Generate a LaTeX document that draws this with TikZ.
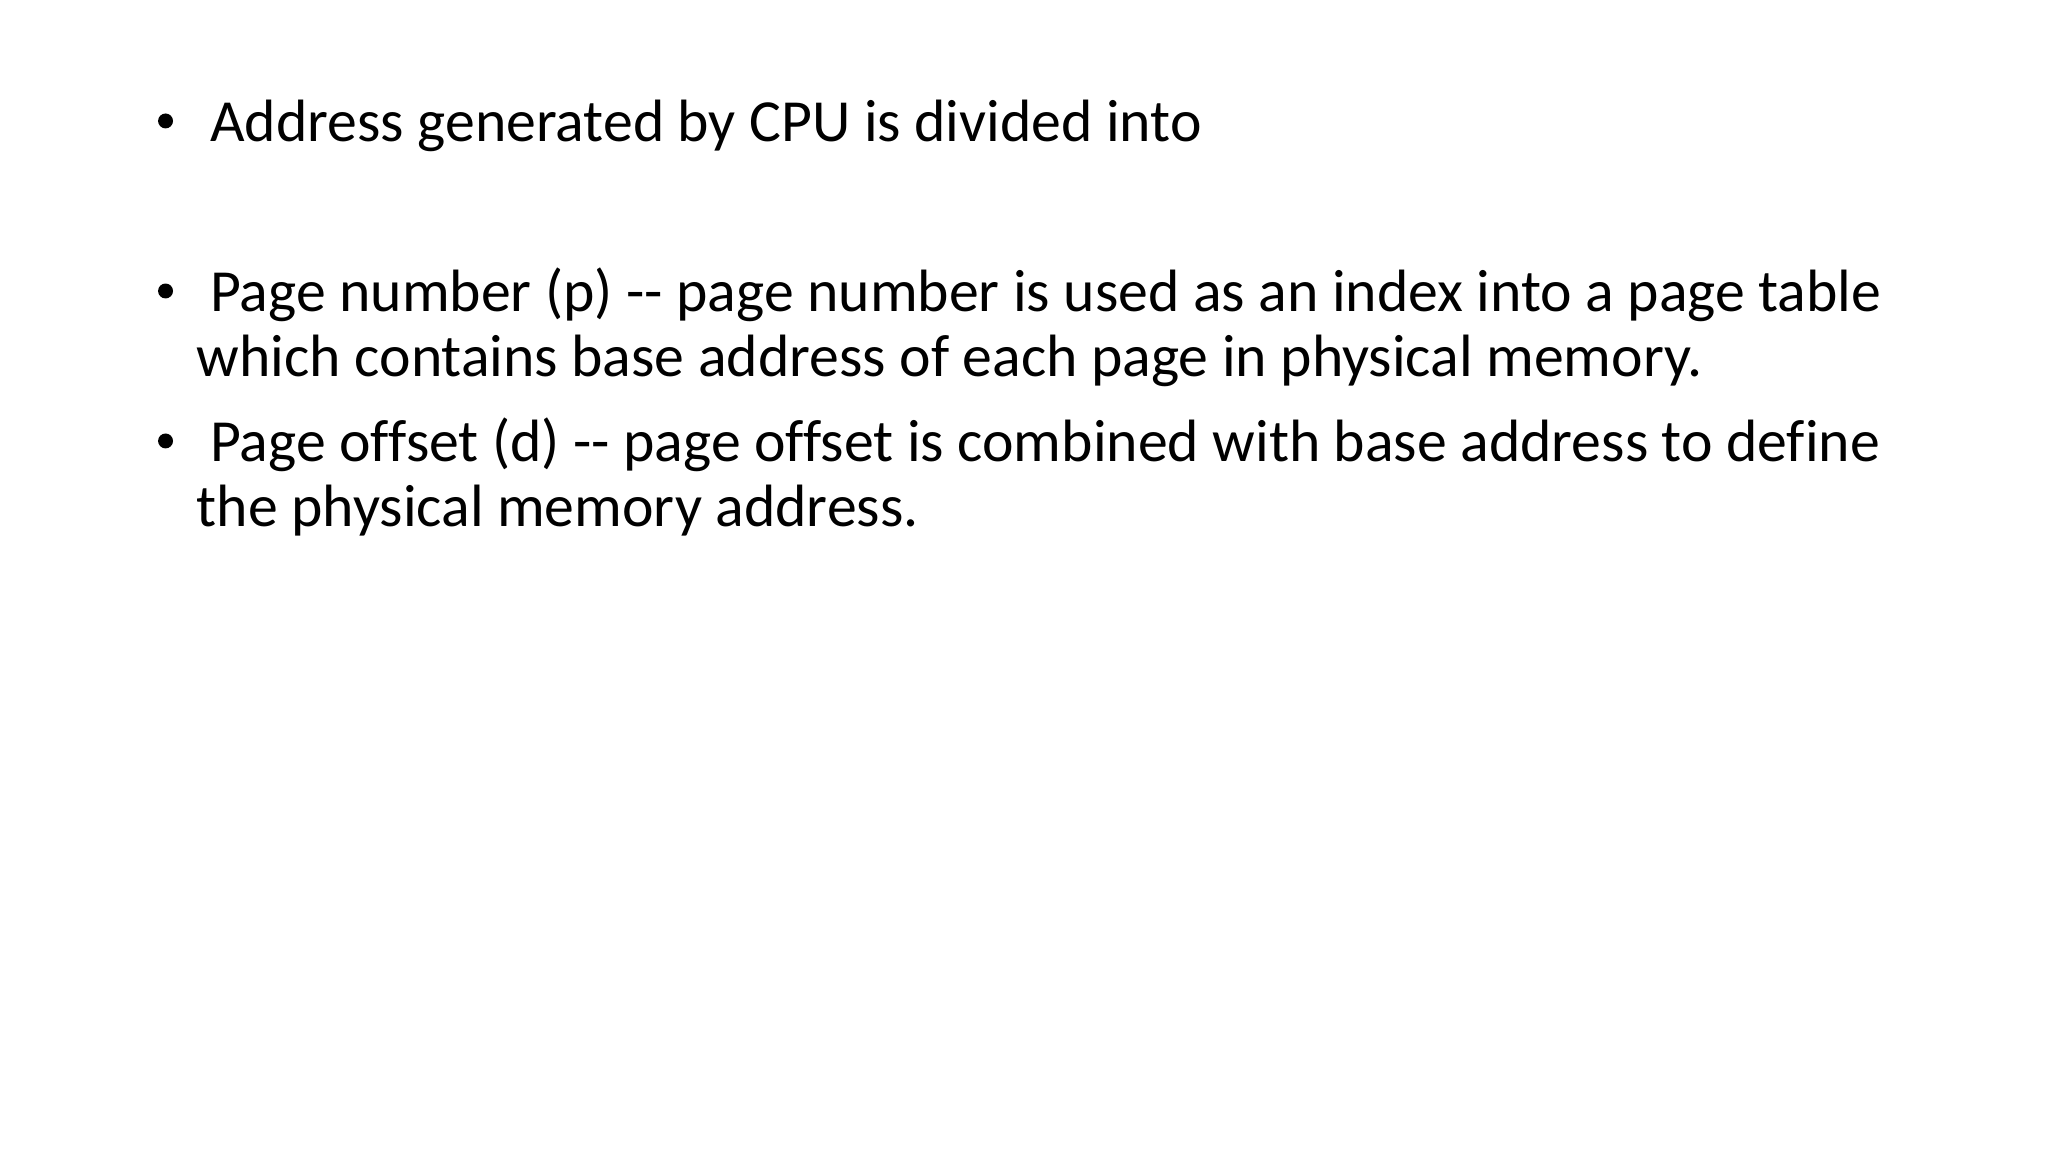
\documentclass[tikz,border=0pt]{standalone}
\usepackage{fontspec}
\setmainfont[Ligatures=NoCommon]{Carlito}
\usepackage{tikz}
\usetikzlibrary{positioning}
\tikzset{line/.style = {anchor=base west, inner sep=0pt, font=\fontsize{28}{30.7}\selectfont}}
\tikzset{dot/.style = {circle, fill=black, inner sep=0pt, minimum size=7pt}}

\begin{document}
\begin{tikzpicture}[x=1pt, y=1pt]
    \useasboundingbox [fill=white] (0, 0) rectangle (960, -540);

    \node [dot] (b1) at (77.6, -56.7) {};
    \node [line] (addr) at (98.4, -66.4) {Address generated by CPU is divided into};

    \node [dot] (b2) at (77.6, -136.4) {};
    \node [line] (pnum) at (98.4, -146.1) {Page number (p) -{}- page number is used as an index into a page table};
    \node [line] (pnumb) at (92.1, -176.6) {which contains base address of each page in physical memory.};

    \node [dot] (b3) at (77.6, -206.7) {};
    \node [line] (poff) at (98.4, -216.4) {Page offset (d) -{}- page offset is combined with base address to define};
    \node [line] (poffb) at (92.1, -246.9) {the physical memory address.};
  \end{tikzpicture}
\end{document}
